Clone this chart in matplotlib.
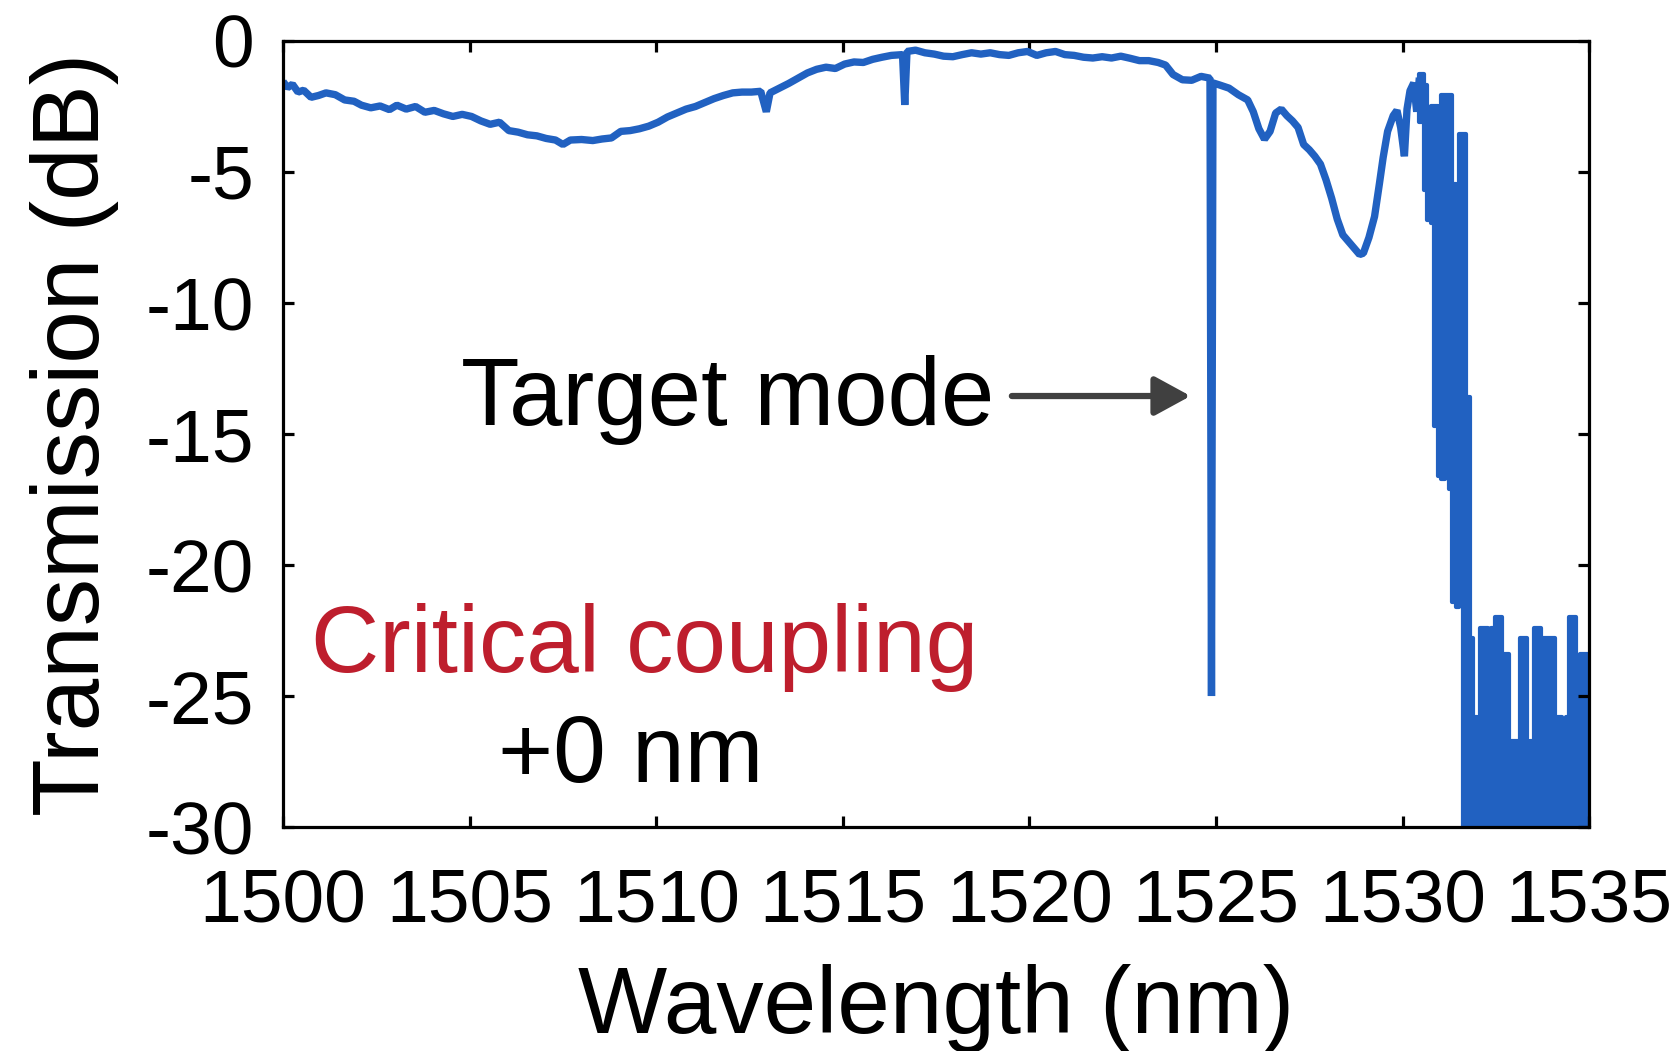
import numpy as np
import matplotlib
matplotlib.use('Agg')
from matplotlib import pyplot as plt

plt.rcParams['font.family'] = ['Liberation Sans', 'DejaVu Sans']

# transmission trace, 1500 - 1530.45 nm
wavelength = [
    1500.00, 1500.12, 1500.25, 1500.40, 1500.55, 1500.75, 1500.95, 1501.15, 1501.40, 1501.65,
    1501.90, 1502.10, 1502.35, 1502.60, 1502.85, 1503.05, 1503.30, 1503.55, 1503.80, 1504.05,
    1504.30, 1504.55, 1504.80, 1505.05, 1505.30, 1505.55, 1505.80, 1506.05, 1506.30, 1506.55,
    1506.80, 1507.05, 1507.30, 1507.50, 1507.70, 1508.00, 1508.30, 1508.55, 1508.80, 1509.05,
    1509.30, 1509.55, 1509.80, 1510.05, 1510.30, 1510.55, 1510.80, 1511.05, 1511.30, 1511.55,
    1511.80, 1512.05, 1512.30, 1512.55, 1512.80, 1512.95, 1513.05, 1513.30, 1513.55, 1513.80,
    1514.05, 1514.30, 1514.55, 1514.80, 1515.05, 1515.30, 1515.55, 1515.80, 1516.05, 1516.30,
    1516.60, 1516.66, 1516.72, 1516.95, 1517.20, 1517.45, 1517.70, 1517.95, 1518.20, 1518.45,
    1518.70, 1518.95, 1519.20, 1519.45, 1519.70, 1519.95, 1520.20, 1520.45, 1520.70, 1520.95,
    1521.20, 1521.45, 1521.70, 1521.95, 1522.20, 1522.45, 1522.70, 1522.95, 1523.20, 1523.45,
    1523.65, 1523.85, 1524.10, 1524.35, 1524.60, 1524.84, 1524.88, 1524.92, 1525.10, 1525.35,
    1525.60, 1525.85, 1526.00, 1526.15, 1526.30, 1526.45, 1526.60, 1526.75, 1526.90, 1527.05,
    1527.20, 1527.35, 1527.50, 1527.65, 1527.80, 1527.95, 1528.10, 1528.25, 1528.40, 1528.55,
    1528.70, 1528.85, 1528.95, 1529.10, 1529.25, 1529.38, 1529.48, 1529.60, 1529.75, 1529.85,
    1529.95, 1530.05, 1530.12, 1530.20, 1530.30, 1530.38, 1530.45,
]
transmission = [
    -1.55, -1.78, -1.65, -1.95, -1.88, -2.15, -2.08, -1.98, -2.05, -2.25,
    -2.30, -2.45, -2.55, -2.48, -2.62, -2.45, -2.60, -2.50, -2.72, -2.65,
    -2.78, -2.88, -2.80, -2.88, -3.05, -3.18, -3.10, -3.42, -3.48, -3.58,
    -3.62, -3.72, -3.78, -3.95, -3.78, -3.76, -3.80, -3.74, -3.70, -3.45,
    -3.42, -3.35, -3.25, -3.10, -2.90, -2.75, -2.60, -2.50, -2.35, -2.20,
    -2.08, -1.98, -1.95, -1.95, -1.92, -2.70, -1.98, -1.80, -1.62, -1.42,
    -1.22, -1.08, -1.00, -1.05, -0.88, -0.80, -0.82, -0.70, -0.62, -0.55,
    -0.52, -2.44, -0.40, -0.35, -0.45, -0.50, -0.58, -0.60, -0.52, -0.45,
    -0.50, -0.45, -0.52, -0.55, -0.45, -0.40, -0.55, -0.45, -0.40, -0.52,
    -0.55, -0.62, -0.65, -0.60, -0.65, -0.58, -0.66, -0.75, -0.75, -0.82,
    -0.92, -1.28, -1.48, -1.50, -1.35, -1.42, -25.00, -1.60, -1.68, -1.80,
    -2.05, -2.25, -2.70, -3.35, -3.75, -3.45, -2.75, -2.60, -2.85, -3.05,
    -3.30, -3.95, -4.15, -4.40, -4.70, -5.30, -6.00, -6.80, -7.40, -7.65,
    -7.90, -8.15, -8.10, -7.50, -6.70, -5.45, -4.45, -3.45, -2.85, -2.65,
    -3.30, -4.40, -2.60, -1.90, -1.60, -2.70, -1.40,
]

# past 1530.45 nm the trace swings faster than the plot resolves:
# upper / lower envelope of each swing band
band_start = [
    1530.45, 1530.58, 1530.66, 1530.77, 1530.85, 1530.95, 1531.03, 1531.14, 1531.25, 1531.33,
    1531.43, 1531.52, 1531.63, 1531.71, 1531.82, 1531.90, 1532.00, 1532.08, 1532.30, 1532.38,
    1532.49, 1532.67, 1532.86, 1533.15, 1533.34, 1533.42, 1533.53, 1533.72, 1534.09, 1534.28,
    1534.39, 1534.47, 1534.65, 1534.76, 1535.00,
]
band_upper = [
    -1.26, -1.68, -4.20, -2.48, -2.48, -5.05, -2.06, -2.06, -2.06, -5.46,
    -11.1, -3.55, -3.55, -13.6, -22.8, -25.8, -26.7, -22.4, -24.4, -22.4,
    -22.0, -23.4, -26.7, -22.8, -27.9, -26.7, -22.4, -22.8, -25.8, -27.9,
    -25.8, -22.0, -24.4, -23.4, -23.4,
]
band_lower = [
    -3.10, -5.70, -6.83, -6.93, -14.7, -16.6, -16.7, -15.3, -17.1, -21.4,
    -21.6, -20.9, -31.0, -31.0, -31.0, -31.0, -31.0, -31.0, -31.0, -31.0,
    -31.0, -31.0, -31.0, -31.0, -31.0, -31.0, -31.0, -31.0, -31.0, -31.0,
    -31.0, -31.0, -31.0, -31.0, -31.0,
]

x_ticks = [1500, 1505, 1510, 1515, 1520, 1525, 1530, 1535]
y_ticks = [0, -5, -10, -15, -20, -25, -30]

blue = '#2161C1'

fig = plt.figure(figsize=(16.8, 10.51), dpi=100)
ax = fig.add_axes([0.1685, 0.2131, 0.7774, 0.7479])

ax.plot(wavelength, transmission, color=blue, linewidth=5.3,
        solid_joinstyle='bevel', solid_capstyle='butt')
ax.fill_between(band_start, band_lower, band_upper, step='post',
                facecolor=blue, edgecolor=blue, linewidth=3)

ax.set_xlim(1500, 1535)
ax.set_ylim(-30, 0)
ax.set_xticks(x_ticks)
ax.set_yticks(y_ticks)
ax.set_xticklabels([str(t) for t in x_ticks])
ax.set_yticklabels([str(t) for t in y_ticks])

for side in ['top', 'bottom', 'left', 'right']:
    ax.spines[side].set_linewidth(2.3)
ax.tick_params(which='both', direction='in', top=True, right=True,
               length=8, width=2.3, labelsize=54)
ax.tick_params(axis='x', pad=29)
ax.tick_params(axis='y', pad=21)

ax.set_xlabel('Wavelength (nm)', fontsize=68, labelpad=20)
ax.set_ylabel('Transmission (dB)', fontsize=68, labelpad=19)

ax.text(1504.77, -14.66, 'Target mode', fontsize=69, ha='left', va='baseline')
ax.annotate('', xy=(1524.32, -13.55), xytext=(1519.53, -13.55),
            arrowprops=dict(arrowstyle='-|>,head_length=2.2,head_width=1.2',
                            color='#404040', linewidth=4.5, shrinkA=0, shrinkB=0))
ax.text(1500.75, -24.08, 'Critical coupling', fontsize=68, color='#BE1E2D',
        ha='left', va='baseline')
ax.text(1505.76, -28.28, '+0 nm', fontsize=68, ha='left', va='baseline')

fig.savefig('out.png', dpi=100)
